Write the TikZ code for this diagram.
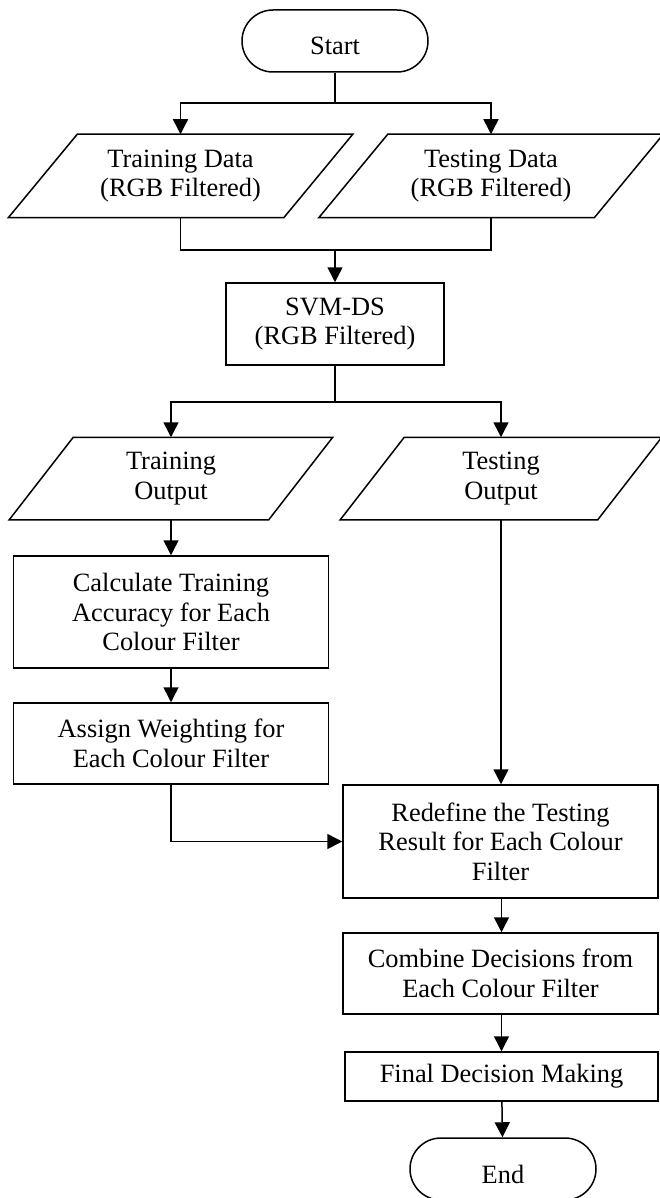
\documentclass[tikz,border=0pt]{standalone}
\usepackage{fontspec}
\setmainfont{Liberation Serif}
\usetikzlibrary{shapes.misc,arrows.meta}

\tikzset{
  every node/.style={font=\fontsize{13.2pt}{14.8pt}\selectfont, align=center, inner sep=0pt},
  terminal/.style={rounded rectangle, draw, minimum width=93pt, minimum height=31pt,
    text height=14pt, text depth=0pt},
  process/.style={rectangle, draw},
  iobox/.style={rectangle},
  flow/.style={-{Triangle[length=7.5pt,width=7.5pt]}}
}

% parallelogram drawn round a named node: #1 node, #2 half slant
\newcommand{\ioframe}[2]{%
  \draw ([xshift=#2]#1.north west) -- ([xshift=#2]#1.north east)
     -- ([xshift=-#2]#1.south east) -- ([xshift=-#2]#1.south west) -- cycle;}

\begin{document}
\begin{tikzpicture}[x=0.5pt, y=-0.5pt, line width=0.75pt]
  \useasboundingbox (0,0) rectangle (659,1198);
  \draw
    (335,41) node[terminal] (start){Start}
    (180.5,176) node[iobox, minimum width=137pt, minimum height=41pt] (trdata){Training Data\\(RGB Filtered)}
    (491,176) node[iobox, minimum width=137pt, minimum height=41pt] (tsdata){Testing Data\\(RGB Filtered)}
    (335,324) node[process, minimum width=109pt, minimum height=41pt] (svm){SVM-DS\\(RGB Filtered)}
    (171,478.5) node[iobox, minimum width=129pt, minimum height=40.5pt] (trout){Training\\Output}
    (501,478.5) node[iobox, minimum width=128pt, minimum height=40.5pt] (tsout){Testing\\Output}
    (171,612) node[process, minimum width=157.5pt, minimum height=56pt] (calc){Calculate Training\\Accuracy for Each\\Colour Filter}
    (171,743.5) node[process, minimum width=157.5pt, minimum height=40.5pt] (assign){Assign Weighting for\\Each Colour Filter}
    (500.5,841.5) node[process, minimum width=157.5pt, minimum height=56.5pt] (redefine){Redefine the Testing\\Result for Each Colour\\Filter}
    (500.5,973.5) node[process, minimum width=157.5pt, minimum height=40.5pt] (combine){Combine Decisions from\\Each Colour Filter}
    (501.5,1076.5) node[process, minimum width=156.5pt, minimum height=24.5pt] (final){Final Decision Making}
    (503,1169) node[terminal] (end){End};
  \ioframe{trdata}{17.25pt}
  \ioframe{tsdata}{17.25pt}
  \ioframe{trout}{16pt}
  \ioframe{tsout}{16pt}

  \coordinate (split1) at (335,103);
  \coordinate (merge1) at (335,250);
  \coordinate (split2) at (335,402);

  \draw (start) -- (split1);
  \draw (trdata.south) |- (merge1) -| (tsdata.south);
  \draw (svm) -- (split2);
  \begin{scope}[flow]
    \draw (split1) -| (trdata.north);
    \draw (split1) -| (tsdata.north);
    \draw (merge1) -- (svm);
    \draw (split2) -| (trout.north);
    \draw (split2) -| (tsout.north);
    \draw (trout) -- (calc);
    \draw (calc) -- (assign);
    \draw (assign.south) |- (redefine.west);
    \draw (tsout.south) -- (tsout.south |- redefine.north);
    \draw (redefine.south -| final) -- (combine.north -| final);
    \draw (combine.south -| final) -- (final);
    \draw (final) -- (end);
  \end{scope}
\end{tikzpicture}
\end{document}
